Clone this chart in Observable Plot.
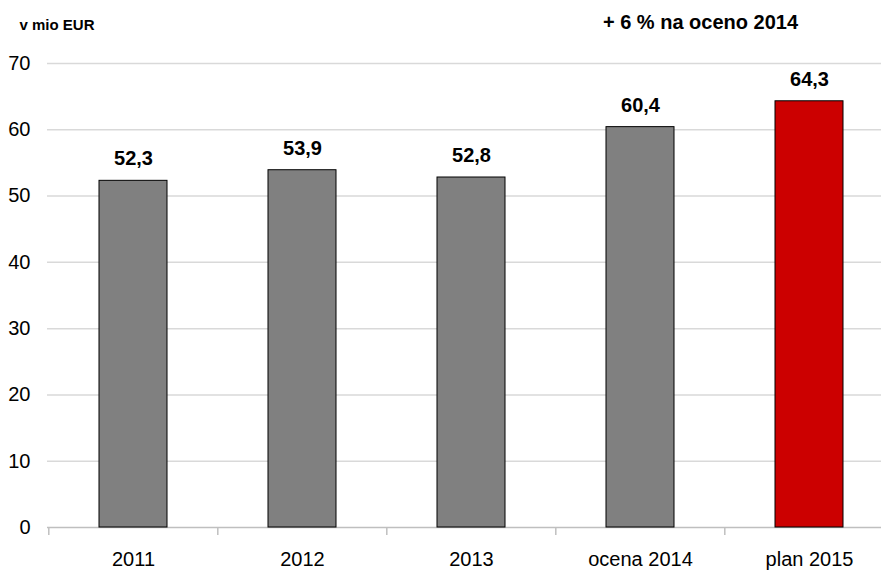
<!DOCTYPE html>
<html>
<head>
<meta charset="utf-8">
<script src="https://cdn.jsdelivr.net/npm/d3@7"></script>
<script src="https://cdn.jsdelivr.net/npm/@observablehq/plot@0.6"></script>
<style>
  html, body { margin: 0; padding: 0; background: white; overflow: hidden; }
</style>
</head>
<body>
<div id="chart"></div>
<script>
const categories = ["2011", "2012", "2013", "ocena 2014", "plan 2015"];
const values = [52.3, 53.9, 52.8, 60.4, 64.3];
const barColors = ["#808080", "#808080", "#808080", "#808080", "#cc0000"];
const yTicks = [0, 10, 20, 30, 40, 50, 60, 70];
const unitLabel = "v mio EUR";
const noteLabel = "+ 6 % na oceno 2014";

const data = categories.map((c, i) => ({category: c, value: values[i], color: barColors[i]}));
const fmt = v => v.toFixed(1).replace(".", ",");

const W = 881, H = 570;
const mL = 47, mT = 63, mB = 43;
const xRange = [47, 894];
const step = (xRange[1] - xRange[0]) / categories.length;

const chart = Plot.plot({
  width: W,
  height: H,
  marginTop: mT,
  marginBottom: mB,
  marginLeft: mL,
  marginRight: 0,
  style: {fontFamily: "Arial, 'Liberation Sans', sans-serif", fontSize: "20px", background: "white", color: "black", overflow: "hidden"},
  x: {domain: categories, range: xRange, paddingInner: 0.6, paddingOuter: 0.3, label: null},
  y: {domain: [0, 70], label: null},
  color: {type: "identity"},
  marks: [
    Plot.gridY(yTicks.filter(t => t > 0), {stroke: "#d9d9d9", strokeOpacity: 1, strokeWidth: 1.5}),
    Plot.ruleY([0], {stroke: "#bfbfbf", strokeWidth: 1.5}),
    Plot.axisY({ticks: yTicks, tickSize: 0, tickPadding: 17, fontSize: 20, label: null}),
    Plot.axisX({tickSize: 0, tickPadding: 24, fontSize: 20, label: null}),
    Plot.axisX({tickSize: 8, tickFormat: () => "", dx: -step / 2, stroke: "#bfbfbf", strokeWidth: 1.5, label: null}),
    Plot.barY(data, {x: "category", y: "value", fill: "color", stroke: "#000", strokeWidth: 1}),
    Plot.text(data, {x: "category", y: "value", text: d => fmt(d.value), dy: -22, fontWeight: "bold", fontSize: 20, fill: "black"}),
    Plot.text([unitLabel], {frameAnchor: "top-left", dx: -28, dy: -38, textAnchor: "start", lineAnchor: "middle", fontWeight: "bold", fontSize: 15, fill: "black"}),
    Plot.text([noteLabel], {frameAnchor: "top-left", dx: 653, dy: -41, textAnchor: "middle", lineAnchor: "middle", fontWeight: "bold", fontSize: 20, fill: "black"})
  ]
});
document.getElementById("chart").appendChild(chart);
</script>
</body>
</html>
